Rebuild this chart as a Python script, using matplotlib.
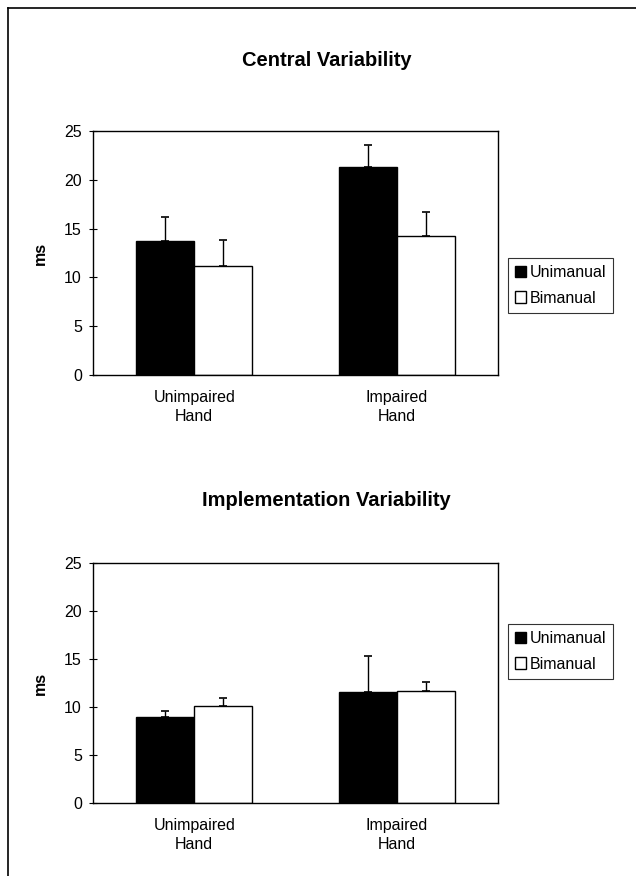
import matplotlib
matplotlib.use("Agg")
import matplotlib.pyplot as plt
import numpy as np
from matplotlib.lines import Line2D

plt.rcParams['font.family'] = ['Liberation Sans', 'DejaVu Sans']

categories = ["Unimpaired\nHand", "Impaired\nHand"]
series = ["Unimanual", "Bimanual"]

central_uni = [13.7, 21.3]
central_uni_err = [2.5, 2.3]
central_bi = [11.2, 14.2]
central_bi_err = [2.6, 2.5]

impl_uni = [9.0, 11.6]
impl_uni_err = [0.6, 3.7]
impl_bi = [10.1, 11.7]
impl_bi_err = [0.8, 0.9]

yticks = [0, 5, 10, 15, 20, 25]

W, H = 636, 876
fig = plt.figure(figsize=(W / 100, H / 100), dpi=100)

def fx(px):
    return px / W

def fy(py):
    return 1 - py / H

def panel(top_px, bot_px, title, title_px, uni, uni_err, bi, bi_err, leg_top_px):
    ax = fig.add_axes([fx(93), fy(bot_px), fx(498) - fx(93), fy(top_px) - fy(bot_px)])
    x = np.arange(len(categories))
    w = 0.286
    off = 0.143
    ax.bar(x - off, uni, width=w, color='black', edgecolor='black', linewidth=1.0,
           label=series[0], zorder=2)
    ax.bar(x + off, bi, width=w, color='white', edgecolor='black', linewidth=1.0,
           label=series[1], zorder=2)
    ax.errorbar(x - off, uni, yerr=[np.zeros(len(uni)), uni_err], fmt='none',
                ecolor='black', elinewidth=1.0, capsize=3, capthick=1.2, zorder=3)
    ax.errorbar(x + off, bi, yerr=[np.zeros(len(bi)), bi_err], fmt='none',
                ecolor='black', elinewidth=1.0, capsize=3, capthick=1.2, zorder=3)
    ax.set_xlim(-0.5, 1.5)
    ax.set_ylim(0, 25)
    ax.set_yticks(yticks)
    ax.set_yticklabels([str(t) for t in yticks], fontsize=11.5)
    ax.tick_params(axis='y', direction='inout', length=6, width=0.8, pad=5)
    ax.set_xticks(x)
    ax.set_xticklabels(categories, fontsize=11.5, linespacing=1.3)
    ax.tick_params(axis='x', length=0, pad=11)
    for s in ax.spines.values():
        s.set_linewidth(1.0)
        s.set_color('black')
    fig.text(0.5 * (fx(93) + fx(560)), fy(title_px), title, ha='center', va='center',
             fontsize=14.5, fontweight='bold')
    fig.text(fx(40), 0.5 * (fy(top_px) + fy(bot_px)), "ms", rotation=90, ha='center',
             va='center', fontsize=11.5, fontweight='bold')
    leg = ax.legend(loc='upper left', bbox_to_anchor=(fx(508), fy(leg_top_px)),
                    bbox_transform=fig.transFigure, borderaxespad=0, fontsize=11.5,
                    frameon=True, fancybox=False, edgecolor='black', handlelength=0.7,
                    handleheight=0.7, handletextpad=0.2, borderpad=0.45,
                    labelspacing=0.65)
    leg.get_frame().set_linewidth(0.8)
    return ax

panel(131, 375, "Central Variability", 60, central_uni, central_uni_err,
      central_bi, central_bi_err, 258)
panel(563, 803, "Implementation Variability", 500, impl_uni, impl_uni_err,
      impl_bi, impl_bi_err, 624)

# outer frame (top and left edges)
fig.add_artist(Line2D([fx(8), fx(636)], [fy(8), fy(8)], color='black', linewidth=1.2,
                      transform=fig.transFigure))
fig.add_artist(Line2D([fx(8), fx(8)], [fy(8), fy(876)], color='black', linewidth=1.2,
                      transform=fig.transFigure))

fig.savefig("out.png", dpi=100)
